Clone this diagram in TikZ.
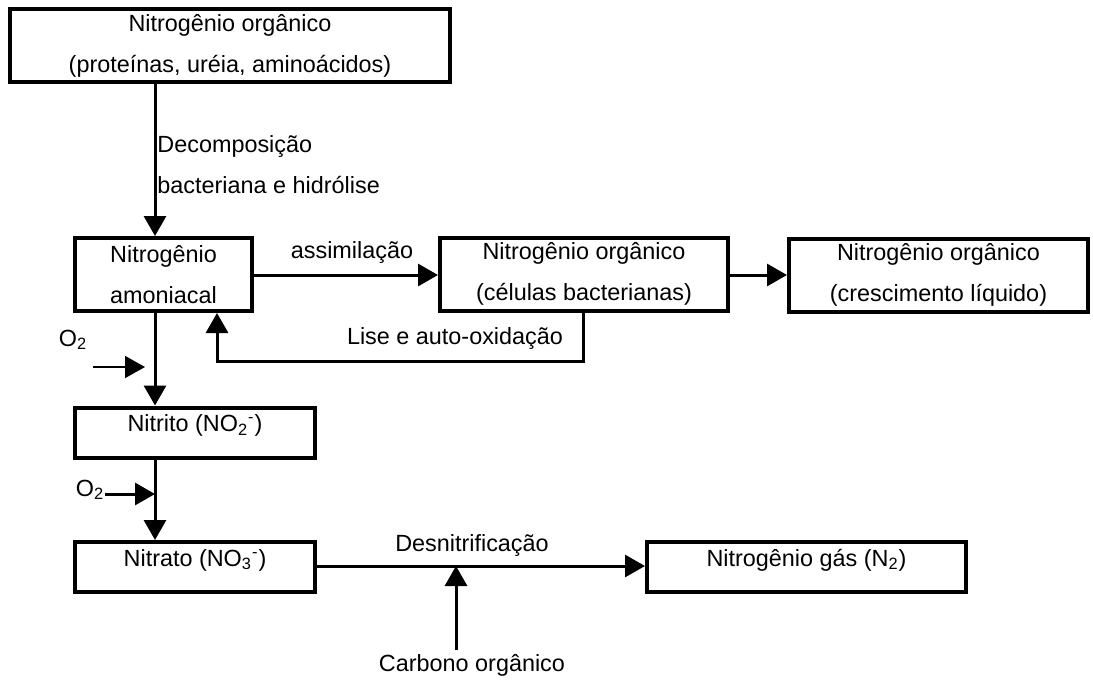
\documentclass[tikz,border=0pt]{standalone}
\usepackage{fontspec}
\setmainfont{Liberation Sans}
\usetikzlibrary{calc, positioning, arrows.meta}
\tikzstyle{box}=[draw, line width=2pt, align=center, inner sep=0pt, minimum height=36.5pt]
\tikzstyle{onebox}=[draw, line width=2pt, inner xsep=0pt, inner ysep=0pt, text height=12pt, text depth=13pt]
\tikzstyle{arr}=[line width=1.5pt, -{Triangle[length=10pt,width=11pt]}]
\tikzstyle{lbl}=[inner sep=0pt, align=center]

\begin{document}
\begin{tikzpicture}[x=0.5pt, y=-0.5pt, font=\fontsize{11.7}{20.5}\selectfont]
        \useasboundingbox (0,0) rectangle (1093,680);

		\node[box, minimum width=220pt] (orgN) at (230,45.5) {Nitrogênio orgânico\\(proteínas, uréia, aminoácidos)};
		\node[box, minimum width=88.5pt] (amon) at (163.5,274.5) {Nitrogênio\\amoniacal};
		\node[box, minimum width=144pt] (cel) at (584,274) {Nitrogênio orgânico\\(células bacterianas)};
		\node[box, minimum width=149.5pt] (cresc) at (938.5,275) {Nitrogênio orgânico\\(crescimento líquido)};
		\node[onebox, minimum width=120pt] (nitri) at (195,432.5) {Nitrito (NO\textsubscript{2}\textsuperscript{-})};
		\node[onebox, minimum width=120pt] (nitra) at (195,567) {Nitrato (NO\textsubscript{3}\textsuperscript{-})};
		\node[onebox, minimum width=159.5pt] (gas) at (806.5,567) {Nitrogênio gás (N\textsubscript{2})};

		\coordinate (vx) at (155,0);
		\foreach \from / \to in {orgN/amon,amon/nitri,nitri/nitra}
		\draw[arr] (\from.south -| vx) -- (\to.north -| vx);

		\node[lbl, anchor=west, align=left] (dec) at (157,165) {Decomposição\\bacteriana e hidrólise};

		\draw[arr] (amon.east |- 0,275) -- (cel.west |- 0,275);
		\node[lbl] (assim) at (352,252) {assimilação};
		\draw[arr] (cel.east |- 0,275) -- (cresc.west |- 0,275);

		% retorno por lise
		\coordinate (lise) at (583,361);
		\draw[arr] (cel.south -| lise) -- (lise) -- (217,361) -- (amon.south -| 217,0);
		\node[lbl] (liseT) at (455,338) {Lise e auto-oxidação};

		\node[lbl] (o2a) at (73,340) {O\textsubscript{2}};
		\coordinate (o2aS) at (93,367);
		\coordinate (o2aE) at (145,367);
		\draw[line width=0.8pt, -{Triangle[length=10pt,width=11pt]}] (o2aS) -- (o2aE);

		\node[lbl] (o2b) at (90,490) {O\textsubscript{2}};
		\draw[arr] (o2b.east |- 0,494) -- (155,494);

		\draw[arr] (nitra.east |- 0,566) -- (gas.west |- 0,566);
		\node[lbl] (desn) at (472,545) {Desnitrificação};

		\coordinate (dn) at (456,566);
		\node[lbl] (carb) at (472,665) {Carbono orgânico};
		\draw[arr] (carb.north -| dn) ++(0,-4) -- (dn);

	\end{tikzpicture}
\end{document}
